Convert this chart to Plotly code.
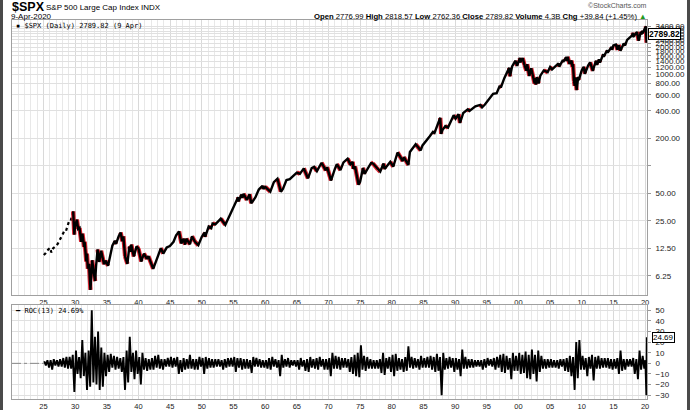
import pandas as pd
import numpy as np
import plotly.graph_objects as go

# ---------------- data ----------------
price_dates = [
    "1925-01-15", "1925-04-15", "1925-07-15", "1925-10-15", "1926-01-15", "1926-03-30", "1926-07-15", "1926-10-15",
    "1927-01-15", "1927-04-15", "1927-07-15", "1927-10-15", "1928-01-15", "1928-04-15", "1928-07-15", "1928-10-15",
    "1929-01-15", "1929-04-15", "1929-07-15", "1929-09-07",
    "1929-11-13", "1929-12-20", "1930-04-10", "1930-06-20", "1930-09-10", "1930-12-16", "1931-02-24", "1931-06-02",
    "1931-07-01", "1931-10-05", "1931-11-09", "1932-01-05", "1932-03-08", "1932-06-01", "1932-09-07", "1932-12-20",
    "1933-02-27", "1933-04-20", "1933-07-18", "1933-10-21", "1934-02-05", "1934-07-26", "1934-10-15", "1935-03-14",
    "1935-07-15", "1935-11-15", "1936-04-06", "1936-06-15", "1936-11-15", "1937-03-06", "1937-06-15", "1937-08-14",
    "1937-11-20", "1938-03-31", "1938-07-25", "1938-09-26", "1938-11-10", "1939-04-08", "1939-09-12", "1940-01-03",
    "1940-06-10", "1940-11-09", "1941-05-01", "1941-07-28", "1942-04-28", "1942-08-15", "1942-12-15", "1943-07-14",
    "1943-11-29", "1944-06-15", "1944-12-15", "1945-07-15", "1945-12-10", "1946-05-29", "1946-10-09", "1947-02-08",
    "1947-05-17", "1947-07-24", "1948-02-14", "1948-06-15", "1948-12-01", "1949-06-13", "1949-12-30", "1950-06-12",
    "1950-07-13", "1951-01-31", "1951-06-29", "1951-09-14", "1952-02-20", "1952-12-30", "1953-01-05", "1953-09-14",
    "1954-06-15", "1954-12-31", "1955-09-23", "1955-10-11", "1956-04-06", "1956-05-28", "1956-08-02", "1957-02-12",
    "1957-07-15", "1957-10-22", "1958-06-15", "1958-12-31", "1959-08-03", "1959-09-22", "1960-01-05", "1960-10-25",
    "1961-05-17", "1961-12-12", "1962-06-26", "1962-10-23", "1963-05-15", "1963-11-22", "1964-12-31", "1965-06-28",
    "1965-12-31", "1966-02-09", "1966-10-07", "1967-05-08", "1967-09-25", "1968-03-05", "1968-11-29", "1969-07-29",
    "1969-10-15", "1970-05-26", "1970-12-31", "1971-04-28", "1971-11-23", "1972-05-15", "1973-01-11", "1973-06-15",
    "1973-10-26", "1973-12-05", "1974-03-13", "1974-10-03", "1974-12-31", "1975-06-15", "1975-09-16", "1976-09-21",
    "1977-01-03", "1977-11-02", "1978-03-06", "1978-09-12", "1978-11-14", "1979-10-05", "1980-03-27", "1980-11-28",
    "1981-09-25", "1981-11-30", "1982-08-12", "1982-11-09", "1983-10-10", "1984-07-24", "1984-11-06", "1985-12-31",
    "1986-07-02", "1986-09-29", "1987-08-25", "1987-10-19", "1987-12-31", "1988-06-15", "1988-11-16", "1989-10-09",
    "1990-01-30", "1990-07-16", "1990-10-11", "1991-04-15", "1991-12-31", "1992-04-08", "1993-03-15", "1993-12-31",
    "1994-04-04", "1994-09-15", "1995-06-15", "1995-12-31", "1996-07-24", "1996-12-31", "1997-04-11", "1997-10-07",
    "1998-07-17", "1998-08-31", "1998-12-31", "1999-07-16", "1999-10-15", "2000-03-24", "2000-04-14", "2000-09-01",
    "2000-12-20", "2001-04-04", "2001-05-21", "2001-09-21", "2002-01-04", "2002-07-23", "2002-08-22", "2002-10-09",
    "2002-11-27", "2003-03-11", "2003-06-17", "2003-12-31", "2004-08-12", "2004-12-31", "2005-04-20", "2005-12-14",
    "2006-05-05", "2006-06-13", "2006-12-15", "2007-02-20", "2007-07-19", "2007-08-16", "2007-10-09", "2008-01-22",
    "2008-05-19", "2008-07-15", "2008-08-11", "2008-10-10", "2008-11-20", "2009-01-06", "2009-03-09", "2009-06-12",
    "2009-07-10", "2009-12-31", "2010-04-23", "2010-07-02", "2010-12-31", "2011-04-29", "2011-10-03", "2011-12-30",
    "2012-04-02", "2012-06-04", "2012-09-14", "2012-11-15", "2013-05-21", "2013-06-24", "2013-12-31", "2014-02-03",
    "2014-09-18", "2014-10-15", "2014-12-29", "2015-05-21", "2015-08-25", "2015-11-03", "2016-02-11", "2016-08-15",
    "2016-11-04", "2017-03-01", "2017-12-18", "2018-01-26", "2018-02-08", "2018-09-20", "2018-12-24", "2019-04-30",
    "2019-06-03", "2019-07-26", "2019-08-23", "2019-12-27", "2020-02-19", "2020-03-23", "2020-04-09",
]
price_values = [
    10.6, 11.0, 11.8, 12.4, 12.7, 11.3, 12.6, 13.0,
    13.4, 14.2, 15.4, 16.6, 17.6, 19.4, 19.3, 21.5,
    24.9, 25.0, 28.5, 31.9,
    17.7, 21.5, 25.9, 20.5, 21.0, 14.8, 18.2, 13.0,
    14.8, 9.0, 11.0, 7.5, 8.5, 4.4, 9.3, 6.6,
    5.5, 8.0, 12.2, 8.9, 11.8, 8.4, 9.2, 8.1,
    10.5, 13.4, 15.2, 14.0, 17.0, 18.7, 15.0, 17.0,
    10.2, 8.5, 13.2, 11.5, 13.8, 10.2, 13.2, 12.4,
    9.0, 11.0, 9.6, 10.3, 7.5, 8.7, 9.8, 12.6,
    11.0, 12.8, 13.3, 14.8, 17.4, 19.2, 14.2, 16.0,
    13.8, 16.0, 13.9, 17.0, 14.8, 13.6, 16.8, 18.7,
    16.7, 21.7, 20.9, 23.5, 23.0, 26.5, 26.5, 22.7,
    29.2, 35.9, 45.6, 40.8, 48.8, 44.6, 49.7, 42.4,
    49.1, 39.0, 45.2, 55.2, 60.7, 56.0, 59.0, 52.3,
    66.5, 72.6, 52.3, 56.0, 70.0, 71.6, 84.7, 82.0,
    92.4, 94.0, 73.2, 94.6, 97.6, 87.7, 108.4, 89.5,
    97.0, 69.3, 92.2, 104.8, 90.2, 109.5, 120.2, 104.3,
    111.0, 93.0, 99.0, 62.3, 67.1, 95.2, 82.0, 107.8,
    107.0, 91.0, 86.9, 106.3, 92.5, 111.0, 98.2, 140.5,
    112.8, 125.0, 102.4, 142.0, 172.6, 147.8, 168.0, 211.3,
    236.0, 230.0, 336.8, 224.8, 247.1, 273.0, 263.0, 359.8,
    329.0, 368.9, 295.5, 380.0, 417.1, 400.0, 450.0, 466.4,
    438.9, 470.0, 545.0, 615.9, 626.6, 740.7, 737.0, 914.6,
    1186.8, 957.3, 1229.2, 1418.8, 1247.0, 1527.5, 1356.0, 1520.8,
    1264.7, 1103.3, 1300.0, 965.8, 1172.0, 797.7, 916.1, 776.8,
    938.0, 800.7, 975.0, 1111.9, 1063.0, 1211.9, 1137.5, 1265.0,
    1325.0, 1223.7, 1418.3, 1399.0, 1552.5, 1406.7, 1565.2, 1310.5,
    1426.6, 1214.9, 1305.0, 848.9, 752.4, 934.0, 676.5, 944.7,
    869.3, 1115.1, 1217.3, 1022.6, 1257.6, 1363.6, 1099.2, 1257.6,
    1419.0, 1278.0, 1465.8, 1353.0, 1669.0, 1573.0, 1848.4, 1741.9,
    2011.4, 1862.5, 2090.6, 2130.8, 1867.6, 2109.0, 1829.1, 2190.2,
    2085.2, 2395.0, 2690.2, 2872.9, 2581.0, 2930.8, 2351.1, 2945.8,
    2744.5, 3025.9, 2840.6, 3240.0, 3386.2, 2237.4, 2789.82,
]
sparse_until = "1929-09-07"   # early data drawn as dotted points

# ROC(13) swings, four readings per year (Feb, May, Aug, Nov), 1925-2019
roc_years = list(range(1925, 2020))
roc_values = [
    2, -2, 3, -4,      # 1925
    3, -6, 4, -2,      # 1926
    3, -3, 4, -3,      # 1927
    5, -4, 6, -5,      # 1928
    6, -5, 8, -27,     # 1929
    12, -10, 6, -14,   # 1930
    22, -12, 10, -25,  # 1931
    12, -22, 50, -18,  # 1932
    25, -20, 30, -25,  # 1933
    15, -22, 10, -12,  # 1934
    8, -8, 9, -4,      # 1935
    7, -6, 6, -5,      # 1936
    5, -8, 6, -25,     # 1937
    12, -18, 25, -8,   # 1938
    10, -15, 12, -10,  # 1939
    6, -20, 10, -6,    # 1940
    5, -7, 4, -6,      # 1941
    5, -6, 7, -4,      # 1942
    8, -5, 4, -6,      # 1943
    4, -3, 5, -3,      # 1944
    6, -4, 5, -3,      # 1945
    6, -10, 3, -8,     # 1946
    5, -6, 4, -5,      # 1947
    8, -5, 4, -6,      # 1948
    4, -6, 6, -3,      # 1949
    5, -10, 6, -5,     # 1950
    5, -4, 4, -4,      # 1951
    4, -3, 4, -3,      # 1952
    3, -6, 4, -4,      # 1953
    5, -3, 5, -3,      # 1954
    6, -8, 5, -4,      # 1955
    5, -6, 4, -5,      # 1956
    4, -5, 3, -9,      # 1957
    6, -3, 5, -3,      # 1958
    4, -4, 3, -4,      # 1959
    3, -5, 5, -6,      # 1960
    6, -3, 4, -4,      # 1961
    3, -12, 8, -4,     # 1962
    4, -3, 5, -4,      # 1963
    3, -2, 3, -3,      # 1964
    3, -6, 5, -3,      # 1965
    3, -7, 4, -8,      # 1966
    6, -4, 4, -5,      # 1967
    5, -6, 6, -3,      # 1968
    4, -6, 4, -6,      # 1969
    5, -12, 10, -5,    # 1970
    7, -5, 6, -6,      # 1971
    5, -4, 5, -4,      # 1972
    4, -8, 6, -10,     # 1973
    8, -12, 10, -13,   # 1974
    17, -6, 7, -7,     # 1975
    6, -5, 4, -5,      # 1976
    3, -5, 3, -5,      # 1977
    4, -9, 10, -11,    # 1978
    5, -5, 6, -8,      # 1979
    8, -12, 9, -7,     # 1980
    5, -6, 4, -8,      # 1981
    6, -7, 16, -4,     # 1982
    6, -5, 5, -4,      # 1983
    4, -6, 7, -4,      # 1984
    5, -4, 6, -4,      # 1985
    7, -6, 6, -8,      # 1986
    9, -7, 6, -30,     # 1987
    10, -6, 5, -5,     # 1988
    6, -4, 5, -8,      # 1989
    5, -6, 4, -12,     # 1990
    13, -5, 6, -5,     # 1991
    4, -4, 4, -4,      # 1992
    3, -3, 3, -3,      # 1993
    3, -6, 4, -4,      # 1994
    5, -2, 4, -3,      # 1995
    5, -6, 6, -4,      # 1996
    8, -8, 9, -9,      # 1997
    7, -6, 5, -15,     # 1998
    10, -7, 7, -7,     # 1999
    10, -10, 8, -9,    # 2000
    11, -14, 8, -15,   # 2001
    13, -10, 8, -17,   # 2002
    12, -8, 7, -5,     # 2003
    4, -5, 4, -4,      # 2004
    4, -4, 3, -4,      # 2005
    3, -5, 4, -3,      # 2006
    4, -7, 5, -8,      # 2007
    7, -12, 6, -25,    # 2008
    20, -14, 22, -6,   # 2009
    7, -6, 5, -12,     # 2010
    6, -5, 8, -16,     # 2011
    6, -5, 7, -5,      # 2012
    5, -4, 5, -4,      # 2013
    5, -5, 4, -6,      # 2014
    4, -5, 5, -10,     # 2015
    12, -7, 4, -6,     # 2016
    4, -3, 4, -3,      # 2017
    5, -10, 4, -15,    # 2018
    12, -6, 7, -5,     # 2019
]
roc_months = [2, 5, 8, 11]
roc_tail_dates = ["2020-01-15", "2020-03-16", "2020-04-09"]
roc_tail_values = [3, -30, 24.69]

main_tickvals = [6.25, 12.5, 25, 50, 100, 200, 400, 600, 800, 1000, 1200, 1400, 1600,
                 1800, 2000, 2200, 2400, 2600, 2800, 3000, 3200, 3400]
main_ticktext = ["6.25", "12.50", "25.00", "50.00", "", "200.00", "400.00", "600.00", "800.00",
                 "1000.00", "1200.00", "1400.00", "1600.00", "1800.00", "2000.00", "2200.00",
                 "2400.00", "2600.00", "2800.00", "3000.00", "3200.00", "3400.00"]
roc_tickvals = [-30, -20, -10, 0, 10, 20, 30, 40, 50]

last_close = 2789.82
last_roc = 24.69

# ---------------- build ----------------
pdates = pd.to_datetime(price_dates)
pvals = np.array(price_values)
split = int(np.searchsorted(pdates, pd.Timestamp(sparse_until))) + 1

roc_dates = [pd.Timestamp(year=y, month=m, day=15) for y in roc_years for m in roc_months]
roc_dates += list(pd.to_datetime(roc_tail_dates))
roc_all = roc_values + roc_tail_values

# red segments on declines
red_x, red_y = [], []
for i in range(split, len(pvals)):
    if pvals[i] < pvals[i - 1]:
        red_x += [pdates[i - 1], pdates[i], None]
        red_y += [pvals[i - 1], pvals[i], None]

W, H = 690, 410
L, R, T, B = 12, 43, 20, 11
PW, PH = W - L - R, H - T - B


def px_x(px):
    return (px - L) / PW


def px_y(py):
    return (H - B - py) / PH


FONT = "Liberation Sans, Arial, sans-serif"
MONO = "DejaVu Sans Mono, monospace"

fig = go.Figure()

fig.add_trace(go.Scatter(x=pdates[:split], y=pvals[:split], mode="lines",
                         line=dict(color="black", width=2.2, dash="dot"),
                         xaxis="x", yaxis="y", hoverinfo="skip"))
fig.add_trace(go.Scatter(x=red_x, y=red_y, mode="lines",
                         line=dict(color="#e0202e", width=4.3),
                         xaxis="x", yaxis="y", hoverinfo="skip"))
fig.add_trace(go.Scatter(x=pdates[split - 1:], y=pvals[split - 1:], mode="lines",
                         line=dict(color="black", width=2.4),
                         xaxis="x", yaxis="y", hoverinfo="skip"))

x_start = pd.Timestamp("1920-01-10")
x_end = pd.Timestamp("2020-04-20")

# placeholder zero line before ROC data
fig.add_trace(go.Scatter(x=[x_start, roc_dates[0]], y=[0, 0], mode="lines",
                         line=dict(color="#888888", width=1, dash="dashdot"),
                         xaxis="x2", yaxis="y2", hoverinfo="skip"))
fig.add_trace(go.Scatter(x=roc_dates, y=roc_all, mode="lines",
                         line=dict(color="black", width=1.9),
                         xaxis="x2", yaxis="y2", hoverinfo="skip"))

xcommon = dict(type="date", range=[x_start, x_end], tickformat="%y",
               tick0="1925-01-01", dtick="M60", ticks="", showgrid=True,
               gridcolor="#d9d9d9", gridwidth=1,
               minor=dict(dtick="M12", tick0="1925-01-01", showgrid=True, gridcolor="#e8e8e8", ticks=""),
               showline=True, linecolor="#a0a0a0", mirror=True, linewidth=1,
               tickfont=dict(family=FONT, size=7.5, color="#222"), zeroline=False,
               ticklabelstandoff=0, automargin=False)

ycommon = dict(side="right", ticks="outside", ticklen=3, tickcolor="#999",
               gridcolor="#e0e0e0", showline=True, linecolor="#a0a0a0", mirror=True,
               tickfont=dict(family=FONT, size=8, color="#222"), zeroline=False,
               ticklabelstandoff=3, automargin=False)

fig.update_layout(
    width=W, height=H, margin=dict(l=L, r=R, t=T, b=B, autoexpand=False),
    paper_bgcolor="white", plot_bgcolor="white", showlegend=False,
    xaxis=dict(anchor="y", **xcommon),
    xaxis2=dict(anchor="y2", matches="x", **xcommon),
    yaxis=dict(type="log", domain=[px_y(295), 1.0],
               range=[np.log10(3.87), np.log10(3960)],
               tickvals=main_tickvals, ticktext=main_ticktext, **ycommon),
    yaxis2=dict(domain=[0, px_y(305)], range=[-33.6, 55],
                tickvals=roc_tickvals, **ycommon),
)

ann = []
ann.append(dict(x=px_x(11), y=px_y(6.5), text="<b>$SPX</b>", font=dict(family=FONT, size=12.5, color="black")))
ann.append(dict(x=px_x(45), y=px_y(7.5), text="S&P 500 Large Cap Index INDX", font=dict(family=FONT, size=8, color="black")))
ann.append(dict(x=px_x(10), y=px_y(16.5), text="9-Apr-2020", font=dict(family=FONT, size=8, color="black")))
ann.append(dict(x=px_x(15), y=px_y(25.5), text="▪ $SPX (Daily) 2789.82 (9 Apr)", font=dict(family=MONO, size=7, color="black")))
ann.append(dict(x=px_x(14), y=px_y(311), text="━ ROC(13) 24.69%", font=dict(family=MONO, size=7, color="black")))
ann.append(dict(x=px_x(648), y=px_y(6), xanchor="right", text="©StockCharts.com", font=dict(family=FONT, size=7, color="#555")))
ohlc = ("<b>Open</b> 2776.99 <b>High</b> 2818.57 <b>Low</b> 2762.36 <b>Close</b> 2789.82 "
        "<b>Volume</b> 4.3B <b>Chg</b> +39.84 (+1.45%) <span style='color:#1f9a1f'>▲</span>")
ann.append(dict(x=px_x(648), y=px_y(16.5), xanchor="right", text=ohlc, font=dict(family=FONT, size=7.7, color="black")))
for a in ann:
    a.setdefault("xanchor", "left")
    a.update(xref="paper", yref="paper", yanchor="middle", showarrow=False, borderpad=0)

ann.append(dict(x=px_x(648), y=np.log10(last_close), xref="paper", yref="y", xanchor="left", yanchor="middle",
                text="<b>2789.82</b>", showarrow=False, bgcolor="white", bordercolor="black", borderwidth=1,
                borderpad=0, font=dict(family=FONT, size=8.5, color="black")))
ann.append(dict(x=px_x(652), y=last_roc, xref="paper", yref="y2", xanchor="left", yanchor="middle",
                text="24.69", showarrow=False, bgcolor="white", bordercolor="black", borderwidth=1,
                borderpad=0, font=dict(family=FONT, size=8, color="black")))
fig.update_layout(annotations=ann)

fig.update_layout(shapes=[
    dict(type="rect", xref="paper", yref="paper", x0=px_x(0), x1=px_x(3), y0=px_y(H), y1=px_y(0),
         fillcolor="#4a4a4a", line=dict(width=0)),
    dict(type="rect", xref="paper", yref="paper", x0=px_x(W - 3), x1=px_x(W), y0=px_y(H), y1=px_y(0),
         fillcolor="#4a4a4a", line=dict(width=0)),
])

fig.write_html("out.html")
